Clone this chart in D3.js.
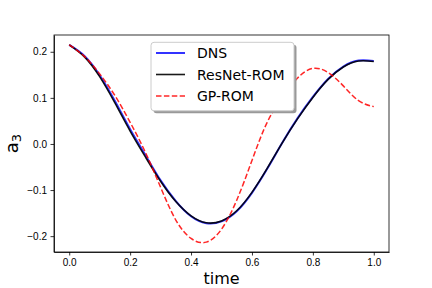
<!DOCTYPE html>
<html>
<head>
  <meta charset="utf-8">
  <style>
    body { margin: 0; background: #fff; }
    svg { display: block; font-family: "DejaVu Sans", sans-serif; }
    .tick text { font-size: 10px; fill: #000; }
    .tick line, .domain { stroke: #000; stroke-width: 0.8; }
  </style>
</head>
<body>
  <svg id="chart" width="432" height="288"></svg>
  <script src="https://cdnjs.cloudflare.com/ajax/libs/d3/7.8.5/d3.min.js"></script>
  <script>
    // sample times and a_3 values
    const time = [0, 0.05, 0.10, 0.15, 0.20, 0.25, 0.30, 0.35, 0.40, 0.45, 0.50,
                  0.55, 0.60, 0.65, 0.70, 0.75, 0.80, 0.85, 0.90, 0.95, 1.00];
    const dns = [0.215, 0.191, 0.149, 0.093, 0.032, -0.024, -0.079, -0.124, -0.157, -0.172, -0.168,
                 -0.146, -0.106, -0.054, 0.003, 0.056, 0.102, 0.141, 0.168, 0.181, 0.180];
    const resnet = [0.215, 0.189, 0.146, 0.089, 0.028, -0.028, -0.081, -0.125, -0.156, -0.171, -0.167,
                    -0.145, -0.105, -0.053, 0.003, 0.055, 0.101, 0.140, 0.167, 0.180, 0.179];
    const gprom = [0.215, 0.190, 0.152, 0.105, 0.047, -0.018, -0.094, -0.165, -0.205, -0.213, -0.185,
                   -0.122, -0.036, 0.047, 0.100, 0.143, 0.164, 0.155, 0.126, 0.094, 0.081];
    const xTicks = [0, 0.2, 0.4, 0.6, 0.8, 1.0];
    const yTicks = [-0.2, -0.1, 0.0, 0.1, 0.2];
    const seriesNames = ["DNS", "ResNet-ROM", "GP-ROM"];

    const svg = d3.select("#chart");
    const m = { left: 54, right: 389, top: 35, bottom: 252 };

    const x = d3.scaleLinear().domain([-0.05, 1.05]).range([m.left, m.right]);
    const allY = dns.concat(resnet, gprom);
    const [lo, hi] = d3.extent(allY);
    const pad = (hi - lo) * 0.05;
    const y = d3.scaleLinear().domain([lo - pad, hi + pad]).range([m.bottom, m.top]);

    const fmt = d3.format(".1f");

    svg.append("g")
      .attr("transform", `translate(0,${m.bottom})`)
      .call(d3.axisBottom(x).tickValues(xTicks).tickFormat(fmt).tickSize(3.5).tickPadding(3.5).tickSizeOuter(0));
    svg.append("g")
      .attr("transform", `translate(${m.left},0)`)
      .call(d3.axisLeft(y).tickValues(yTicks).tickFormat(fmt).tickSize(3.5).tickPadding(3.5).tickSizeOuter(0));

    const line = vals => d3.line()
      .x((d, i) => x(time[i]))
      .y(d => y(d))
      .curve(d3.curveNatural)(vals);

    const styles = [
      { stroke: "#0000ff", op: 0.8, w: 2, dash: null },
      { stroke: "#000", op: 0.9, w: 1.6, dash: null },
      { stroke: "#ff0000", op: 0.85, w: 1.5, dash: "5.5,2.4" }
    ];
    [dns, resnet, gprom].forEach((vals, i) => {
      svg.append("path").attr("d", line(vals))
        .attr("fill", "none").attr("stroke", styles[i].stroke)
        .attr("stroke-opacity", styles[i].op).attr("stroke-width", styles[i].w)
        .attr("stroke-dasharray", styles[i].dash);
    });

    // frame
    svg.append("rect")
      .attr("x", m.left).attr("y", m.top)
      .attr("width", m.right - m.left).attr("height", m.bottom - m.top)
      .attr("fill", "none").attr("stroke", "#000").attr("stroke-width", 0.8);

    // axis labels
    svg.append("text")
      .attr("x", (m.left + m.right) / 2).attr("y", 284)
      .attr("text-anchor", "middle").attr("font-size", 16)
      .text("time");
    const yl = svg.append("text")
      .attr("transform", `translate(17.5,${(m.top + m.bottom) / 2}) rotate(-90)`)
      .attr("text-anchor", "middle").attr("font-size", 18);
    yl.append("tspan").text("a");
    yl.append("tspan").attr("font-size", 13).attr("dy", 3).text("3");

    // legend
    const lg = svg.append("g");
    lg.append("rect").attr("x", 153.5).attr("y", 44.8).attr("width", 143).attr("height", 68.5)
      .attr("rx", 3).attr("fill", "#999");
    lg.append("rect").attr("x", 151).attr("y", 42.3).attr("width", 143).attr("height", 68.5)
      .attr("rx", 3).attr("fill", "#fff").attr("stroke", "#ccc").attr("stroke-width", 1);
    const rowY = [53, 74.5, 96];
    seriesNames.forEach((name, i) => {
      lg.append("line")
        .attr("x1", 156).attr("x2", 185).attr("y1", rowY[i]).attr("y2", rowY[i])
        .attr("stroke", styles[i].stroke).attr("stroke-opacity", styles[i].op)
        .attr("stroke-width", styles[i].w).attr("stroke-dasharray", styles[i].dash);
      lg.append("text")
        .attr("x", 197).attr("y", rowY[i] + 5.2)
        .attr("font-size", 14).text(name);
    });
  </script>
</body>
</html>
